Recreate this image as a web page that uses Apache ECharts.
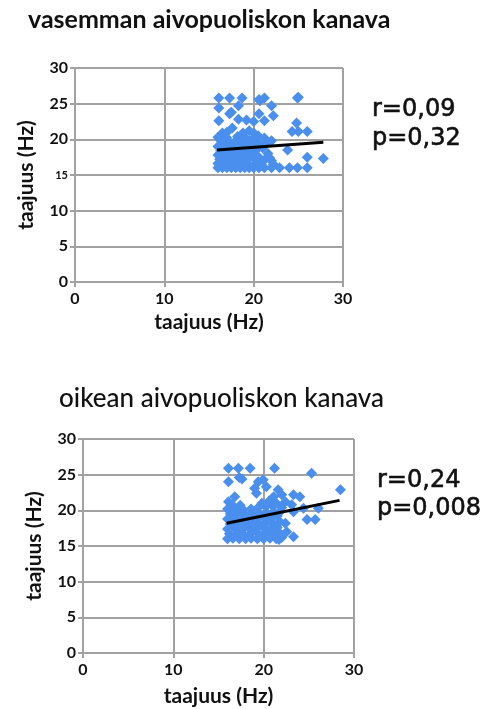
<!DOCTYPE html>
<html>
<head>
<meta charset="utf-8">
<script src="https://cdn.jsdelivr.net/npm/echarts@6/dist/echarts.min.js"></script>
<style>
html,body{margin:0;padding:0;background:#fff;}
#main{width:488px;height:709px;}
</style>
</head>
<body>
<div id="main"></div>
<script>
// ---- data ----
const titleTop = 'vasemman aivopuoliskon kanava';
const titleBottom = 'oikean aivopuoliskon kanava';
const statsTop = ['r=0,09', 'p=0,32'];
const statsBottom = ['r=0,24', 'p=0,008'];
const axisName = 'taajuus (Hz)';
const xTickValues = [0, 10, 20, 30];
const yTickValues = [0, 5, 10, 15, 20, 25, 30];

const leftPoints = [
  [16.1,25.8],[17.3,25.8],[18.7,25.8],[20.6,25.6],[21.2,25.8],[24.9,25.8],[25.0,25.9],
  [16.1,24.4],[18.3,24.7],[22.0,24.7],[20.7,25.4],
  [17.3,23.6],[17.5,23.8],[20.6,23.6],[22.2,23.3],
  [16.1,22.6],[18.3,22.8],[19.2,22.7],[20.0,22.5],[21.2,22.6],[24.8,22.3],
  [17.6,21.6],[16.5,20.9],[18.8,20.9],[20.0,20.9],[19.5,21.2],[17.0,21.0],[24.3,21.1],[25.0,21.1],[26.0,21.1],
  [21.2,20.2],[22.0,19.8],[20.5,20.5],
  [23.8,18.5],[26.0,17.5],[27.8,17.3],[22.0,17.0],[21.8,17.4],
  [22.0,16.0],[22.9,16.0],[24.0,16.0],[24.9,16.0],[26.0,16.0],
  [16.0,16.0],[16.5,16.0],[17.0,16.0],[17.5,16.0],[18.0,16.0],[18.5,16.0],[19.0,16.0],[19.5,16.0],[20.0,16.0],[20.6,16.0],[21.2,16.0],
  [16.0,16.6],[16.8,16.5],[17.6,16.7],[18.4,16.5],[19.2,16.6],[20.1,16.5],[20.8,16.8],
  [16.2,17.2],[17.0,17.1],[17.8,17.3],[18.6,17.0],[19.4,17.2],[20.3,17.1],
  [16.0,17.8],[16.7,17.7],[17.4,17.9],[18.2,17.7],[19.0,17.8],[19.8,17.9],[20.5,17.6],
  [16.3,18.4],[17.1,18.3],[17.9,18.5],[18.7,18.3],[19.5,18.5],[20.2,18.4],
  [16.0,19.0],[16.8,19.1],[17.6,18.9],[18.4,19.0],[19.2,19.2],[20.0,19.0],[20.8,19.1],
  [16.4,19.7],[17.2,19.6],[18.0,19.8],[18.8,19.7],[19.6,19.8],[20.4,19.6],
  [16.0,20.3],[17.0,20.2],[18.2,20.4],[19.0,20.3],[20.0,20.2],
  [21.5,19.6],[21.0,18.8],[21.6,18.0],[21.3,17.2],[22.2,16.5]
];
const leftTrend = [[15.9,18.5],[27.8,19.6]];

const rightPoints = [
  [16.1,25.9],[17.2,25.9],[18.5,25.9],[21.2,25.9],[25.3,25.2],[28.5,22.9],
  [16.1,24.0],[17.3,24.6],[17.6,24.4],[19.4,24.0],[19.95,24.3],[19.0,23.1],[20.3,23.3],[19.2,22.4],
  [21.6,22.9],[22.0,22.2],[23.3,22.2],[24.0,21.9],[21.1,21.9],[16.8,21.9],[16.1,21.2],
  [22.4,21.2],[23.1,20.8],[24.4,20.3],[26.05,20.3],[24.8,18.7],[25.7,18.7],
  [22.4,18.2],[22.55,17.0],[23.3,16.3],[21.7,15.9],[23.3,19.8],
  [16.0,16.0],[16.6,16.1],[17.3,16.0],[18.0,16.0],[18.6,16.1],[19.3,16.0],[20.0,16.0],[20.7,16.1],[21.4,16.0],[22.0,16.2],
  [16.2,16.7],[17.0,16.8],[17.8,16.6],[18.6,16.8],[19.4,16.7],[20.2,16.9],[21.0,16.7],[21.7,16.9],
  [16.0,17.4],[16.8,17.5],[17.6,17.3],[18.4,17.5],[19.2,17.4],[20.0,17.6],[20.8,17.4],[21.5,17.6],
  [16.3,18.1],[17.1,18.2],[17.9,18.0],[18.7,18.2],[19.5,18.1],[20.3,18.3],[21.1,18.1],[21.8,18.4],
  [16.0,18.8],[16.8,18.9],[17.6,18.7],[18.4,18.9],[19.2,18.8],[20.0,19.0],[20.8,18.9],[21.5,19.2],
  [16.3,19.5],[17.1,19.6],[17.9,19.4],[18.7,19.6],[19.5,19.5],[20.3,19.7],[21.1,19.8],[21.9,19.9],
  [16.0,20.2],[16.8,20.3],[17.7,20.1],[18.6,20.2],[19.4,20.4],[20.2,20.5],[21.0,20.6],[22.0,20.4],
  [16.5,20.8],[17.4,20.7],[19.8,21.0],[20.6,21.3],[21.4,21.0]
];
const rightTrend = [[15.9,18.2],[28.4,21.4]];

// ---- styles ----
const gridColor = '#a2a2a2';
const dotColor = '#4a8fee';
const txt = '#111';

function xAxisDef(gridIndex, gap) {
  return {
    type: 'value', gridIndex, min: xTickValues[0], max: xTickValues[xTickValues.length-1], interval: 10,
    name: axisName, nameLocation: 'middle', nameGap: gap,
    nameTextStyle: {fontFamily: 'Lato', fontWeight: 'bold', fontSize: 21, color: txt},
    axisLine: {show: true, lineStyle: {color: gridColor, width: 2}},
    axisTick: {show: true, length: 5, lineStyle: {color: gridColor, width: 2}},
    splitLine: {show: true, lineStyle: {color: gridColor, width: 2}},
    axisLabel: {margin: 9, fontFamily: 'Lato', fontWeight: 'bold', fontSize: 16, color: txt}
  };
}
function yAxisDef(gridIndex, smallFifteen) {
  return {
    type: 'value', gridIndex, min: yTickValues[0], max: yTickValues[yTickValues.length-1], interval: 5,
    name: axisName, nameLocation: 'middle', nameGap: 38, nameRotate: 90,
    nameTextStyle: {fontFamily: 'Lato', fontWeight: 'bold', fontSize: 21, color: txt},
    axisLine: {show: true, lineStyle: {color: gridColor, width: 2}},
    axisTick: {show: true, length: 5, lineStyle: {color: gridColor, width: 2}},
    splitLine: {show: true, lineStyle: {color: gridColor, width: 2}},
    axisLabel: {
      margin: 7, fontFamily: 'Lato', fontWeight: 'bold', fontSize: 16, color: txt,
      formatter: v => (smallFifteen && v === 15) ? '{s|' + v + '}' : String(v),
      rich: {s: {fontFamily: 'Lato', fontWeight: 'bold', fontSize: 11, color: txt}}
    }
  };
}

const chart = echarts.init(document.getElementById('main'), null, {renderer: 'canvas'});
chart.setOption({
  animation: false,
  backgroundColor: '#fff',
  title: [
    {text: titleTop, left: 28, top: 7, padding: 0,
     textStyle: {fontFamily: 'Lato', fontWeight: 'bold', fontSize: 25, color: txt}},
    {text: titleBottom, left: 59, top: 386, padding: 0,
     textStyle: {fontFamily: 'Lato', fontWeight: 500, fontSize: 26, color: txt}},
    {text: statsTop.join('\n'), left: 372, top: 95, padding: 0,
     textStyle: {fontFamily: 'DejaVu Sans', fontWeight: 'normal', fontSize: 24, lineHeight: 29, color: txt,
       textBorderColor: txt, textBorderWidth: 0.6}},
    {text: statsBottom.join('\n'), left: 377, top: 467, padding: 0,
     textStyle: {fontFamily: 'DejaVu Sans', fontWeight: 'normal', fontSize: 24, lineHeight: 28, color: txt,
       textBorderColor: txt, textBorderWidth: 0.6}}
  ],
  grid: [
    {left: 75, top: 68, width: 268, height: 214},
    {left: 83, top: 439, width: 271, height: 214}
  ],
  xAxis: [xAxisDef(0, 30), xAxisDef(1, 33)],
  yAxis: [yAxisDef(0, true), yAxisDef(1, false)],
  series: [
    {type: 'scatter', xAxisIndex: 0, yAxisIndex: 0, data: leftPoints, symbol: 'diamond', symbolSize: 11,
     itemStyle: {color: dotColor, opacity: 1}, z: 2},
    {type: 'line', xAxisIndex: 0, yAxisIndex: 0, data: leftTrend, symbol: 'none',
     lineStyle: {color: '#000', width: 3}, z: 3},
    {type: 'scatter', xAxisIndex: 1, yAxisIndex: 1, data: rightPoints, symbol: 'diamond', symbolSize: 11,
     itemStyle: {color: dotColor, opacity: 1}, z: 2},
    {type: 'line', xAxisIndex: 1, yAxisIndex: 1, data: rightTrend, symbol: 'none',
     lineStyle: {color: '#000', width: 3}, z: 3}
  ]
});
</script>
</body>
</html>
